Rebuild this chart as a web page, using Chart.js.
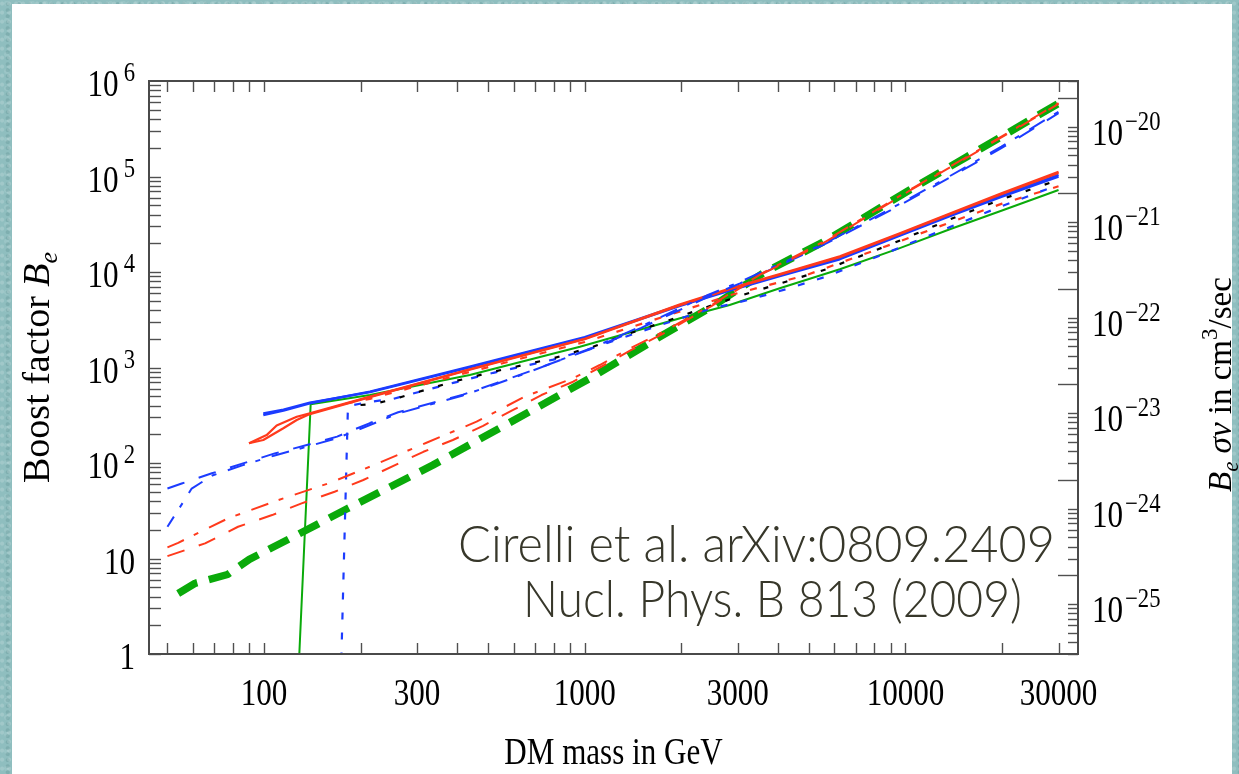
<!DOCTYPE html>
<html>
<head>
<meta charset="utf-8">
<title>Boost factor vs DM mass</title>
<script src="https://cdn.jsdelivr.net/npm/chart.js@4.4.1/dist/chart.umd.min.js"></script>
<style>
  html, body { margin: 0; padding: 0; width: 1239px; height: 774px; overflow: hidden; }
  body {
    background-color: #8fbebf;
    background-image:
      radial-gradient(circle at 30% 40%, rgba(255,255,255,0.16) 0 1.5px, transparent 2.5px),
      radial-gradient(circle at 70% 70%, rgba(0,60,60,0.12) 0 1.5px, transparent 2.5px),
      radial-gradient(circle at 50% 20%, rgba(255,255,255,0.10) 0 2px, transparent 3px);
    background-size: 7px 9px, 11px 6px, 13px 17px;
  }
  #panel { position: absolute; left: 12px; top: 4px; width: 1220px; height: 790px; background: #ffffff; }
  #c { position: absolute; left: 0; top: 0; }
</style>
</head>
<body>
<div id="panel"></div>
<canvas id="c" width="1239" height="774"></canvas>
<script>
// ---- axis ranges and tick labels ----
const X_MIN = 43.8, X_MAX = 34500;
const Y_MIN = 1, Y_MAX = 1e6;
const SIGMA_V = 3e-26;                       // cm^3/sec, converts B_e into B_e * sigma v
const xTickMarks = [50, 60, 70, 80, 90, 100, 200, 300, 400, 500, 600, 700, 800, 900,
                    1000, 2000, 3000, 4000, 5000, 6000, 7000, 8000, 9000, 10000, 20000, 30000];
const xTickValues = [100, 300, 1000, 3000, 10000, 30000];
const xTickLabels = ['100', '300', '1000', '3000', '10000', '30000'];
const yTickValues = [1, 10, 1e2, 1e3, 1e4, 1e5, 1e6];
const yTickBases = ['1', '10', '10', '10', '10', '10', '10'];
const yTickExps = ['', '', '2', '3', '4', '5', '6'];
const y2TickValues = [1e-25, 1e-24, 1e-23, 1e-22, 1e-21, 1e-20];
const y2TickExps = ['\u221225', '\u221224', '\u221223', '\u221222', '\u221221', '\u221220'];

// ---- curves: DM mass (GeV) and boost factor B_e ----
const greenThickMass = [54, 61, 77, 90, 126.5, 181, 336, 471, 725, 1060, 1631, 2483, 3590, 5675, 10300, 15500, 22700, 30300];
const greenThickB = [4.3, 5.5, 6.8, 9.8, 17.6, 33, 95, 178, 396, 802, 1900, 4300, 9690, 21500, 72300, 160000, 338000, 593000];

const redDotDashMass = [50, 54, 77.4, 111, 159, 214, 321, 460, 650, 920, 1114, 1384, 1750, 2483, 3590, 5675, 10300, 15500, 22700, 30000];
const redDotDashB = [13.1, 14.6, 26.4, 41, 61.3, 91.5, 163, 271, 495, 771, 1062, 1589, 2350, 4500, 9800, 21600, 72300, 160000, 338000, 585000];

const redDashMass = [50, 65.5, 83, 106, 131, 166, 204, 314, 388, 482, 598, 733, 920, 1114, 1384, 1750, 2483, 3590, 5675, 10300, 15500, 22700, 30000];
const redDashB = [10.6, 14.4, 21.5, 28.5, 37.8, 50, 66.4, 131, 174, 245, 359, 515, 710, 1000, 1500, 2250, 4400, 9600, 21000, 71000, 157000, 332000, 575000];

const blueDashMass = [50, 55.4, 68.8, 86, 108, 136, 169, 214, 262, 334, 417, 532, 666, 1076, 1500, 2422, 3050, 4970, 6240, 9000, 13460, 19900, 30000];
const blueDashB = [54, 61, 78, 99, 126, 154, 189, 262, 340, 425, 520, 690, 900, 1620, 2600, 5500, 7600, 16000, 23500, 44500, 94000, 198000, 460000];

const blueDotDashMass = [50, 56, 59.5, 69, 86, 108, 136, 169, 196, 262, 334, 417, 532, 666, 1076, 1500, 2422, 3050, 4970, 6240, 9000, 13460, 19900, 30000];
const blueDotDashB = [21.5, 39, 54, 74, 95, 120, 148, 182, 222, 330, 415, 510, 675, 890, 1650, 2700, 5740, 7900, 16500, 24000, 46000, 97000, 205000, 477000];

const blueDottedMass = [171.3, 182.7, 215, 253, 389, 519, 798, 1062, 1383, 1841, 2455, 3273, 4240, 5650, 9000, 13750, 20000, 30000];
const blueDottedB = [0.1, 395, 438, 470, 690, 880, 1210, 1600, 2180, 3000, 4100, 5150, 6600, 8930, 16500, 29500, 49000, 82000];

const blackDottedMass = [200, 219, 253, 389, 519, 798, 1062, 1383, 1841, 2455, 3273, 4240, 5670, 9000, 13750, 20000, 30000];
const blackDottedB = [405, 415, 464, 710, 904, 1248, 1652, 2280, 3143, 4405, 6070, 7910, 10700, 19500, 35500, 58000, 92000];

const redDottedMass = [180, 214, 438, 1000, 2000, 2830, 4920, 9600, 13750, 20000, 30000];
const redDottedB = [420, 470, 900, 1850, 3900, 5700, 9300, 21000, 33000, 52000, 79000];

const redSolidAMass = [89.8, 101.9, 109.5, 126.5, 139, 214, 438, 1000, 1983, 2830, 4055, 6240, 9600, 13750, 20000, 30000];
const redSolidAB = [161, 196, 247, 305, 331, 495, 960, 2000, 4600, 6700, 9500, 14600, 25500, 41000, 67000, 112000];
const redSolidBMass = [89.8, 99.5, 114.9, 126.5, 139, 214, 438, 1000, 1983, 2830, 4055, 6240, 9600, 13750, 20000, 30000];
const redSolidBB = [161, 174, 231, 282, 325, 490, 950, 1980, 4500, 6600, 9350, 14300, 25000, 40200, 65500, 109000];

const blueSolidMass = [99.5, 115, 139, 214, 438, 1000, 1983, 2830, 4055, 6240, 9600, 13750, 20000, 30000];
const blueSolidAB = [318, 353, 422, 558, 1020, 2080, 4500, 6500, 9200, 13900, 24500, 39500, 63000, 104000];
const blueSolidBB = [330, 362, 428, 552, 1005, 2040, 4420, 6380, 9050, 13600, 24000, 38500, 61500, 100000];

const greenSolidMass = [124.9, 139.8, 214, 438, 966, 1983, 2830, 4055, 6240, 9600, 13750, 20000, 30000];
const greenSolidB = [0.1, 412, 515, 835, 1652, 3275, 4510, 6750, 10700, 17800, 28000, 44000, 72200];

// ---- styles ----
const RED = '#ff3a1c', BLUE = '#1c3cff', GREEN = '#0aaa0a', BLACK = '#000000';
const DOT_DASH = [18, 11, 5, 12], DASH = [18, 15], DOTS = [5, 15], SHORT_DASH = [7, 13];

function pts(ms, bs) { return ms.map((m, i) => ({ x: m, y: bs[i] })); }
function series(label, ms, bs, color, width, dash, dashOffset) {
  return { label, data: pts(ms, bs), borderColor: color, borderWidth: width,
           borderDash: dash || [], borderDashOffset: dashOffset || 0,
           borderCapStyle: 'butt', borderJoinStyle: 'round',
           pointRadius: 0, fill: false, tension: 0, clip: 0 };
}

// first dataset is drawn on top
const datasets = [
  series('red dot-dashed', redDotDashMass, redDotDashB, RED, 2, DOT_DASH),
  series('red dashed', redDashMass, redDashB, RED, 2, DASH),
  series('blue dot-dashed', blueDotDashMass, blueDotDashB, BLUE, 2, DOT_DASH, 6),
  series('blue dashed', blueDashMass, blueDashB, BLUE, 2, DASH),
  series('black dotted', blackDottedMass, blackDottedB, BLACK, 2.2, DOTS),
  series('blue dotted', blueDottedMass, blueDottedB, BLUE, 2.2, SHORT_DASH, 10),
  series('red dotted', redDottedMass, redDottedB, RED, 2.2, SHORT_DASH),
  series('red solid a', redSolidAMass, redSolidAB, RED, 2.2),
  series('red solid b', redSolidBMass, redSolidBB, RED, 2.2),
  series('blue solid a', blueSolidMass, blueSolidAB, BLUE, 2.4),
  series('blue solid b', blueSolidMass, blueSolidBB, BLUE, 2.4),
  series('green solid', greenSolidMass, greenSolidB, GREEN, 2),
  series('green thick dashed', greenThickMass, greenThickB, GREEN, 7.5, [22, 12])
];

// ---- text helpers ----
const SERIF = '"Liberation Serif", "Times New Roman", serif';
const SX = 0.84;   // horizontal squeeze of the tick lettering

function textWidth(ctx, str, font) { ctx.font = font; return ctx.measureText(str).width * SX; }
function put(ctx, str, x, y, font, align) {
  ctx.save(); ctx.font = font; ctx.textAlign = 'left'; ctx.textBaseline = 'alphabetic';
  const w = textWidth(ctx, str, font);
  let x0 = x;
  if (align === 'right') x0 = x - w; else if (align === 'center') x0 = x - w / 2;
  ctx.translate(x0, y); ctx.scale(SX, 1); ctx.fillText(str, 0, 0); ctx.restore();
  return w;
}
function powerLabel(ctx, base, exp, x, yTick, align, gap, baseDy) {
  const fb = '37px ' + SERIF, fe = '27px ' + SERIF;
  const g = exp ? gap : 0;
  const wb = textWidth(ctx, base, fb), we = exp ? textWidth(ctx, exp, fe) : 0;
  const total = wb + g + we;
  const left = align === 'right' ? x - total : x;
  put(ctx, base, left, yTick + baseDy, fb, 'left');
  if (exp) put(ctx, exp, left + wb + g, yTick + baseDy - 15, fe, 'left');
}

const framePlugin = {
  id: 'frameAndLabels',
  afterDatasetsDraw(chart) {
    const { ctx, chartArea: a } = chart;
    const xs = chart.scales.x, ys = chart.scales.y, y2 = chart.scales.y2;
    ctx.save();
    ctx.strokeStyle = '#505050';
    ctx.lineWidth = 1.4;
    const seg = (x1, y1, x2, y2_) => { ctx.beginPath(); ctx.moveTo(x1, y1); ctx.lineTo(x2, y2_); ctx.stroke(); };

    // bottom and top ticks
    for (const v of xTickMarks) {
      const px = Math.round(xs.getPixelForValue(v)) + 0.5;
      seg(px, a.bottom, px, a.bottom - 11);
      seg(px, a.top, px, a.top + 11);
    }
    // left ticks: 1..9 x 10^n
    for (let n = 0; n < 6; n++) {
      for (let k = 1; k <= 9; k++) {
        const py = Math.round(ys.getPixelForValue(k * Math.pow(10, n))) + 0.5;
        seg(a.left, py, a.left + 12, py);
      }
    }
    // right ticks on the sigma-v scale
    for (let n = -26; n <= -20; n++) {
      for (let k = 1; k <= 9; k++) {
        const v = k * Math.pow(10, n);
        if (v < y2.min * 0.999 || v > y2.max * 1.001) continue;
        const py = Math.round(y2.getPixelForValue(v)) + 0.5;
        const len = (k === 2) ? 20 : 10;
        seg(a.right, py, a.right - len, py);
      }
    }
    // frame
    ctx.lineWidth = 2;
    ctx.strokeStyle = '#4a4a4a';
    ctx.strokeRect(a.left, a.top, a.right - a.left, a.bottom - a.top);

    // tick labels
    ctx.fillStyle = '#000';
    xTickValues.forEach((v, i) => put(ctx, xTickLabels[i], xs.getPixelForValue(v), 705, '37px ' + SERIF, 'center'));
    yTickValues.forEach((v, i) => powerLabel(ctx, yTickBases[i], yTickExps[i], 135, ys.getPixelForValue(v), 'right', 5, 15));
    y2TickValues.forEach((v, i) => powerLabel(ctx, '10', y2TickExps[i], 1092, y2.getPixelForValue(v), 'left', 2, 18));

    // axis titles
    put(ctx, 'DM mass in GeV', (a.left + a.right) / 2, 764, '37px ' + SERIF, 'center');
    drawVertical(ctx, 49, 483, [
      { t: 'Boost factor ', f: '38px ' + SERIF, dy: 0 },
      { t: 'B', f: 'italic 38px ' + SERIF, dy: 0 },
      { t: 'e', f: 'italic 26px ' + SERIF, dy: 8 }
    ]);
    drawVertical(ctx, 1231, 492, [
      { t: 'B', f: 'italic 33px ' + SERIF, dy: 0 },
      { t: 'e', f: 'italic 23px ' + SERIF, dy: 7 },
      { t: ' \u03C3v', f: 'italic 33px ' + SERIF, dy: 0 },
      { t: ' in cm', f: '33px ' + SERIF, dy: 0 },
      { t: '3', f: '23px ' + SERIF, dy: -14 },
      { t: '/sec', f: '33px ' + SERIF, dy: 0 }
    ]);

    // reference note
    ctx.fillStyle = '#37372a';
    fitText(ctx, 'Cirelli et al. arXiv:0809.2409', 458, 562, 597, '300 52px Lato, "Open Sans", sans-serif');
    fitText(ctx, 'Nucl. Phys. B 813 (2009)', 523, 617, 499, '300 52px Lato, "Open Sans", sans-serif');
    ctx.restore();
  }
};

// rotated title, read bottom to top
function drawVertical(ctx, baseX, startY, parts) {
  ctx.save();
  ctx.translate(baseX, startY);
  ctx.rotate(-Math.PI / 2);
  ctx.textBaseline = 'alphabetic'; ctx.textAlign = 'left';
  ctx.fillStyle = '#000';
  let x = 0;
  for (const p of parts) {
    ctx.font = p.f;
    ctx.fillText(p.t, x, p.dy);
    x += ctx.measureText(p.t).width;
  }
  ctx.restore();
}

function fitText(ctx, str, x, y, width, font) {
  ctx.save(); ctx.font = font; ctx.textAlign = 'left'; ctx.textBaseline = 'alphabetic';
  const w = ctx.measureText(str).width;
  ctx.translate(x, y); ctx.scale(width / w, 1); ctx.fillText(str, 0, 0);
  ctx.restore();
}

new Chart(document.getElementById('c').getContext('2d'), {
  type: 'line',
  data: { datasets },
  options: {
    responsive: false,
    animation: false,
    devicePixelRatio: 1,
    layout: { padding: { left: 149, top: 81, right: 161, bottom: 120 } },
    plugins: { legend: { display: false }, tooltip: { enabled: false } },
    scales: {
      x: { type: 'logarithmic', min: X_MIN, max: X_MAX, display: false },
      y: { type: 'logarithmic', min: Y_MIN, max: Y_MAX, display: false },
      y2: { type: 'logarithmic', position: 'right', min: Y_MIN * SIGMA_V, max: Y_MAX * SIGMA_V, display: false }
    }
  },
  plugins: [framePlugin]
});
</script>
</body>
</html>
